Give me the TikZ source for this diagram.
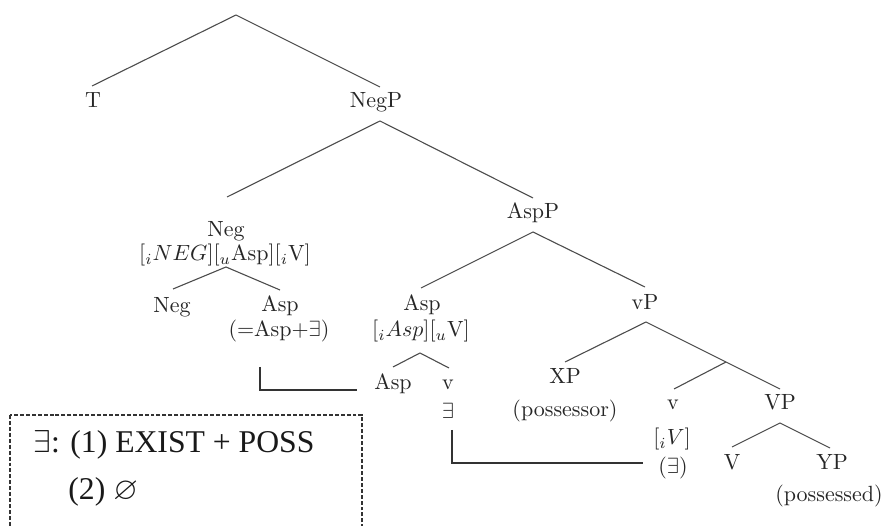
\documentclass[tikz,border=0pt]{standalone}
\usepackage{amssymb}
\usepackage{fontspec}
\newfontfamily\keyfont{Liberation Serif}
\begin{document}
\begin{tikzpicture}[x=0.4545pt,y=-0.4545pt,
  lbl/.style={anchor=base,inner sep=0pt,text=black!85,font=\normalsize},
  keytext/.style={anchor=base west,inner sep=0pt,text=black!90,font=\keyfont\fontsize{14.4}{17}\selectfont},
  branch/.style={draw=black!70,line width=0.5pt},
  link/.style={draw=black!80,line width=0.6pt},
  keybox/.style={draw=black!80,line width=0.55pt,dash pattern=on 1.8pt off 0.9pt}]
\clip (0,0) rectangle (892,526);
\useasboundingbox (0,0) rectangle (892,526);

% labels of the tree
\node[lbl] (T) at (93,108) {T};
\node[lbl] (NegP) at (376,108) {NegP};
\node[lbl] (Neg) at (226,237) {Neg};
\node[lbl] (NegF) at (225,261) {$[_iNEG][_u\mathrm{Asp}][_i\mathrm{V}]$};
\node[lbl] (AspP) at (533,219) {AspP};
\node[lbl] (NegH) at (172,313) {Neg};
\node[lbl] (AspA) at (280,312) {Asp};
\node[lbl] (AspAnote) at (279,337) {(=Asp+$\exists$)};
\node[lbl] (AspB) at (422,311) {Asp};
\node[lbl] (AspBF) at (421,337) {$[_iAsp][_u\mathrm{V}]$};
\node[lbl] (AspC) at (393,390) {Asp};
\node[lbl] (vA) at (448,390) {v};
\node[lbl] (exA) at (448,419) {$\exists$};
\node[lbl] (vP) at (645,310) {vP};
\node[lbl] (XP) at (565,384) {XP};
\node[lbl] (poss) at (565,417) {(possessor)};
\node[lbl] (vB) at (673,410) {v};
\node[lbl] (vBF) at (672,445) {$[_iV]$};
\node[lbl] (exB) at (673,474) {($\exists$)};
\node[lbl] (VP) at (780,410) {VP};
\node[lbl] (V) at (732,470) {V};
\node[lbl] (YP) at (832,470) {YP};
\node[lbl] (possd) at (829,502) {(possessed)};

% branch points and line ends
\coordinate (root) at (236,15);
\coordinate (T-in) at (92,86);
\coordinate (NegP-in) at (380,87);
\coordinate (NegP-out) at (380,121);
\coordinate (Neg-in) at (227,197);
\coordinate (AspP-in) at (533,198);
\coordinate (NegF-out) at (226,267);
\coordinate (NegH-in) at (173,289);
\coordinate (AspA-in) at (280,290);
\coordinate (AspP-out) at (533,232);
\coordinate (AspB-in) at (421,288);
\coordinate (vP-in) at (645,287);
\coordinate (AspBF-out) at (420,353);
\coordinate (AspC-in) at (393,367);
\coordinate (vA-in) at (449,368);
\coordinate (vP-out) at (646,322);
\coordinate (XP-in) at (565,362);
\coordinate (vbar) at (726,362);
\coordinate (VP-in) at (780,389);
\coordinate (vB-in) at (674,389);
\coordinate (VP-out) at (780,423);
\coordinate (V-in) at (732,447);
\coordinate (YP-in) at (830,448);

% branches
\draw[branch] (T-in) -- (root) -- (NegP-in);
\draw[branch] (Neg-in) -- (NegP-out) -- (AspP-in);
\draw[branch] (NegH-in) -- (NegF-out) -- (AspA-in);
\draw[branch] (AspB-in) -- (AspP-out) -- (vP-in);
\draw[branch] (AspC-in) -- (AspBF-out) -- (vA-in);
\draw[branch] (XP-in) -- (vP-out) -- (VP-in);
\draw[branch] (vbar) -- (vB-in);
\draw[branch] (V-in) -- (VP-out) -- (YP-in);

% head-movement links
\coordinate (AspA-link) at (260,367);
\coordinate (AspC-link) at (357,390);
\coordinate (exA-link) at (452,430);
\coordinate (exB-link) at (643,463);
\draw[link] (AspA-link) |- (AspC-link);
\draw[link] (exA-link) |- (exB-link);

% key for the existential
\draw[keybox] (10,415) rectangle (362,560);
\node[keytext] (key1) at (33,453) {$\exists$: (1) EXIST + POSS};
\node[keytext] (key2) at (68,500) {(2) $\varnothing$};
\end{tikzpicture}
\end{document}
